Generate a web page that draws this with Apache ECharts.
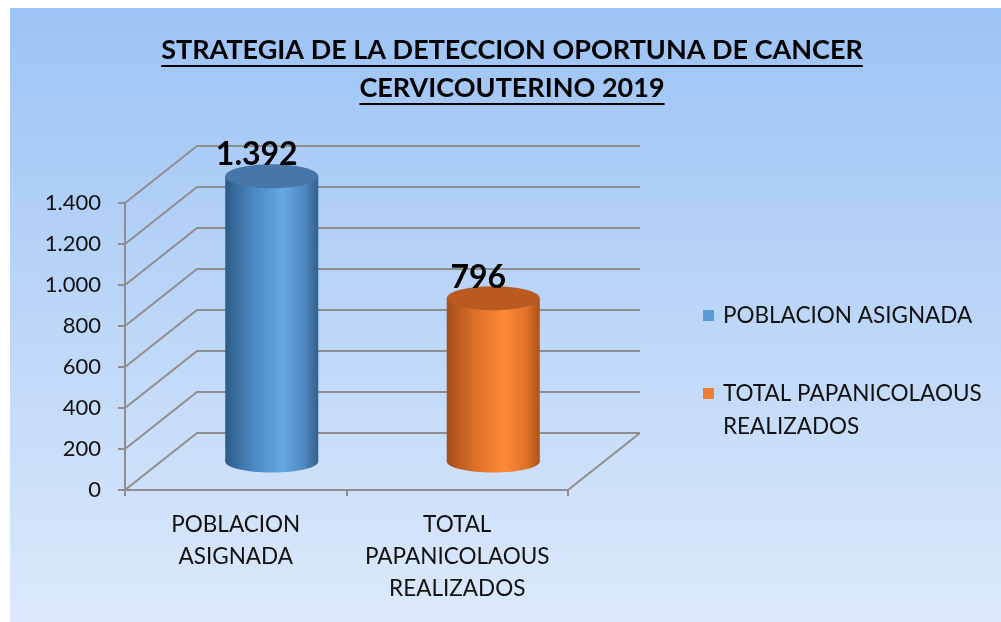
<!DOCTYPE html>
<html>
<head>
<meta charset="utf-8">
<title>Strategia de la deteccion oportuna de cancer cervicouterino 2019</title>
<script src="https://cdn.jsdelivr.net/npm/echarts@6/dist/echarts.min.js"></script>
<style>
    html, body { margin: 0; padding: 0; background: #fff; }
    #chart { position: absolute; left: 10px; top: 8px; width: 991px; height: 614px; }
</style>
</head>
<body>
<div id="chart"></div>
<script>
// 数据
const titleLines = ['STRATEGIA DE LA DETECCION OPORTUNA DE CANCER', 'CERVICOUTERINO 2019']
const categories = ['POBLACION ASIGNADA', 'TOTAL PAPANICOLAOUS REALIZADOS']
const values = [1392, 796]
const yTicks = [0, 200, 400, 600, 800, 1000, 1200, 1400]

// 样式
const FONT = 'Lato, "Open Sans", sans-serif'
const GRID_COLOR = '#8e8e8e'
const DEPTH_X = 72 // 3D深度偏移
const DEPTH_Y = -57
const BAR_RATIO = 0.42
const ELLIPSE_RY = 11
const TITLE_SIZE = 27
const palettes = [
    { stops: ['#2d5b87', '#4b88c2', '#64a8e4', '#5088c0', '#31608d'], top: '#4677a8', legend: '#5b9bd5' },
    { stops: ['#a44e18', '#dc7027', '#fd8a38', '#e07428', '#ad521a'], top: '#b95b21', legend: '#ed7d31' },
]

/* 千位分隔 */
const fmt = (v) => String(v).replace(/\B(?=(\d{3})+(?!\d))/g, '.')

/* 按字数换行 */
const wrapLines = (name, maxChars) => {
    const lines = []
    let cur = ''
    name.split(' ').forEach((w) => {
        if (cur && (cur + ' ' + w).length > maxChars) {
            lines.push(cur)
            cur = w
        } else {
            cur = cur ? cur + ' ' + w : w
        }
    })
    lines.push(cur)
    return lines
}

/* 图例文字：前面补空行，让图标对齐第一行 */
const legendText = (name) => {
    const lines = wrapLines(name, 20)
    return new Array(lines.length - 1).fill('').concat(lines).join('\n')
}

/* 后墙网格线 */
function renderWall(params, api) {
    const cs = params.coordSys
    const v = api.value(1)
    const y = api.coord([0, v])[1]
    const x0 = cs.x
    const x1 = cs.x + cs.width
    const lineStyle = { stroke: GRID_COLOR, lineWidth: 2, fill: null }
    const children = [
        {
            type: 'polyline',
            shape: { points: [[x0, y], [x0 + DEPTH_X, y + DEPTH_Y], [x1 + DEPTH_X, y + DEPTH_Y]] },
            style: lineStyle,
        },
    ]
    if (v === 0) {
        children.push({
            type: 'line',
            shape: { x1: x1, y1: y, x2: x1 + DEPTH_X, y2: y + DEPTH_Y },
            style: lineStyle,
        })
    }
    return { type: 'group', children }
}

/* 圆柱 */
function renderCylinder(params, api) {
    const idx = api.value(0)
    const val = api.value(1)
    const base = api.coord([idx, 0])
    const top = api.coord([idx, val])
    const rx = (api.size([1, 0])[0] * BAR_RATIO) / 2
    const cx = base[0] + DEPTH_X / 2
    const baseY = base[1] + DEPTH_Y / 2
    const topY = top[1] + DEPTH_Y / 2
    const pal = palettes[idx]
    const grad = new echarts.graphic.LinearGradient(0, 0, 1, 0, [
        { offset: 0, color: pal.stops[0] },
        { offset: 0.3, color: pal.stops[1] },
        { offset: 0.62, color: pal.stops[2] },
        { offset: 0.85, color: pal.stops[3] },
        { offset: 1, color: pal.stops[4] },
    ])
    return {
        type: 'group',
        children: [
            {
                type: 'ellipse',
                shape: { cx: cx, cy: baseY, rx: rx, ry: ELLIPSE_RY },
                style: { fill: grad },
            },
            {
                type: 'rect',
                shape: { x: cx - rx, y: topY, width: rx * 2, height: baseY - topY },
                style: { fill: grad },
            },
            {
                type: 'ellipse',
                shape: { cx: cx, cy: topY, rx: rx, ry: ELLIPSE_RY + 1 },
                style: { fill: pal.top },
            },
            {
                type: 'text',
                x: cx - 15,
                y: topY - 21,
                style: {
                    text: fmt(val),
                    fontSize: 32,
                    fontWeight: 'bold',
                    fontFamily: FONT,
                    fill: '#000',
                    align: 'center',
                    verticalAlign: 'middle',
                },
            },
        ],
    }
}

// 标题下划线宽度
const ctx = document.createElement('canvas').getContext('2d')
ctx.font = `bold ${TITLE_SIZE}px ${FONT}`
const TITLE_X = 502
const underlines = titleLines.map((t, i) => {
    const w = ctx.measureText(t).width
    return {
        type: 'rect',
        shape: { x: TITLE_X - w / 2, y: 57 + i * 38, width: w, height: 2 },
        style: { fill: '#000' },
        silent: true,
    }
})

const legendBase = {
    orient: 'vertical',
    left: 693,
    padding: 0,
    icon: 'rect',
    itemWidth: 11,
    itemHeight: 11,
    selectedMode: false,
    formatter: legendText,
    textStyle: { fontFamily: FONT, fontSize: 22.5, lineHeight: 33, color: '#111', padding: [0, 0, 0, 4] },
}

const option = {
    backgroundColor: new echarts.graphic.LinearGradient(0, 0, 0, 1, [
        { offset: 0, color: '#9cc3f5' },
        { offset: 1, color: '#dce9fb' },
    ]),
    animation: false,
    title: {
        text: titleLines.join('\n'),
        left: TITLE_X,
        top: 23,
        padding: 0,
        textAlign: 'center',
        textStyle: {
            fontFamily: FONT,
            fontSize: TITLE_SIZE,
            fontWeight: 'bold',
            lineHeight: 38,
            color: '#000',
        },
    },
    graphic: underlines,
    legend: [
        Object.assign({}, legendBase, { top: 305 - 16 + 2, data: [categories[0]] }),
        Object.assign({}, legendBase, { top: 384 - 50 + 2, data: [categories[1]] }),
    ],
    grid: { left: 115, top: 195, width: 443, height: 287 },
    xAxis: {
        type: 'category',
        data: categories,
        axisLine: { lineStyle: { color: GRID_COLOR, width: 2 } },
        axisTick: { show: true, length: 6, lineStyle: { color: GRID_COLOR, width: 2 } },
        axisLabel: {
            interval: 0,
            formatter: (v) => wrapLines(v, 13).join('\n'),
            fontFamily: FONT,
            fontSize: 22.5,
            lineHeight: 32,
            margin: 19,
            color: '#111',
        },
    },
    yAxis: {
        type: 'value',
        min: 0,
        max: 1400,
        interval: 200,
        axisLine: { show: true, lineStyle: { color: GRID_COLOR, width: 2 } },
        axisTick: { show: true, length: 7, lineStyle: { color: GRID_COLOR, width: 2 } },
        splitLine: { show: false },
        axisLabel: {
            formatter: fmt,
            fontFamily: FONT,
            fontSize: 22,
            margin: 24,
            color: '#111',
        },
    },
    series: [
        {
            type: 'custom',
            name: 'wall',
            silent: true,
            clip: false,
            z: 1,
            renderItem: renderWall,
            data: yTicks.map((v) => [0, v]),
        },
    ].concat(
        categories.map((name, i) => ({
            type: 'custom',
            name: name,
            clip: false,
            z: 3,
            itemStyle: { color: palettes[i].legend },
            renderItem: renderCylinder,
            data: [[i, values[i]]],
        }))
    ),
}

const myChart = echarts.init(document.getElementById('chart'))
myChart.setOption(option)
</script>
</body>
</html>
